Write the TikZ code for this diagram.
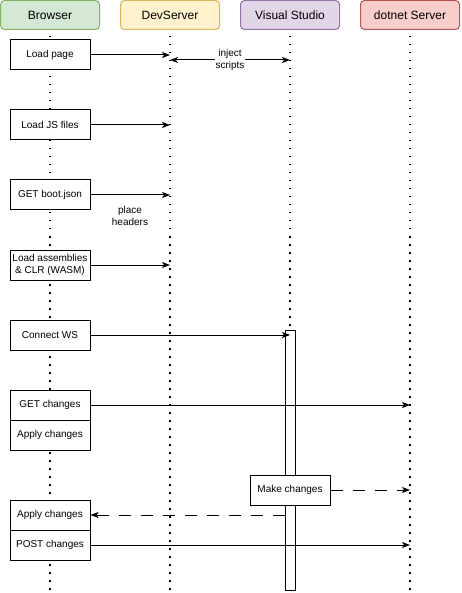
\documentclass[tikz,border=0pt]{standalone}
\usepackage{fontspec}
\setmainfont{Liberation Sans}
\usetikzlibrary{arrows.meta}

\definecolor{vertfond}{HTML}{D5E8D4}
\definecolor{vertbord}{HTML}{82B366}
\definecolor{jaunefond}{HTML}{FFF2CC}
\definecolor{jaunebord}{HTML}{D6B656}
\definecolor{violetfond}{HTML}{E1D5E7}
\definecolor{violetbord}{HTML}{9673A6}
\definecolor{rougefond}{HTML}{F8CECC}
\definecolor{rougebord}{HTML}{B85450}

\begin{document}
\begin{tikzpicture}[x=1pt,y=-1pt]
      \tikzstyle{entete}=[draw, line width=1pt, rounded corners=4pt, minimum width=99pt, minimum height=29pt, inner sep=0pt, font=\fontsize{12}{14}\selectfont]
      \tikzstyle{boite}=[draw, line width=1pt, fill=white, minimum width=80pt, minimum height=30pt, inner sep=0pt, align=center, font=\fontsize{10}{12}\selectfont]
      \tikzstyle{texte}=[align=center, inner sep=1pt, font=\fontsize{10}{12}\selectfont]
      \tikzstyle{vie}=[line width=1.5pt, dash pattern=on 1.5pt off 6.5pt]
      \tikzstyle{fleche}=[-{Stealth[length=8pt,width=6pt,inset=2pt]}, line width=1pt]
      \tikzstyle{tirets}=[fleche, dash pattern=on 12pt off 10pt]

      \useasboundingbox (0,0) rectangle (462,593);

      \node[entete, fill=vertfond, draw=vertbord] (brow) at (50,15) {Browser};
      \node[entete, fill=jaunefond, draw=jaunebord] (dev) at (170,15) {DevServer};
      \node[entete, fill=violetfond, draw=violetbord] (vs) at (290,15) {Visual Studio};
      \node[entete, fill=rougefond, draw=rougebord] (dn) at (410,15) {dotnet Server};

      \coordinate (bas) at (0,592);
      \foreach \n in {brow,dev,vs,dn}
        \draw[vie, shorten <=6pt] (\n.south) -- (\n.south |- bas);

      \node[draw, line width=1pt, fill=white, minimum width=10pt, minimum height=260pt, inner sep=0pt] (barre) at (290,460) {};

      \node[boite] (page) at (50,55) {Load page};
      \node[boite] (js) at (50,125) {Load JS files};
      \node[boite] (boot) at (50,195) {GET boot.json};
      \node[boite] (asm) at (50,265) {Load assemblies\\\& CLR (WASM)};
      \node[boite] (ws) at (50,335) {Connect WS};
      \node[boite] (getc) at (50,405) {GET changes};
      \node[boite] (app1) at (50,435) {Apply changes};
      \node[boite] (app2) at (50,515) {Apply changes};
      \node[boite] (post) at (50,545) {POST changes};
      \node[boite] (make) at (290,490) {Make changes};

      \draw[fleche] (page.east)--(page -| dev);
      \draw[fleche] (js.east)--(js -| dev);
      \draw[fleche] (boot.east)--(boot -| dev);
      \draw[fleche] (asm.east)--(asm -| dev);
      \draw[fleche] (ws.east)--(ws -| vs);
      \draw[fleche] (getc.east)--(getc -| dn);
      \draw[fleche] (post.east)--(post -| dn);
      \draw[tirets] (make.east)--(make -| dn);
      \draw[tirets] (app2 -| barre.west)--(app2.east);

      \coordinate (inj) at (230,60);
      \draw[fleche, {Stealth[length=8pt,width=6pt,inset=2pt]}-{Stealth[length=8pt,width=6pt,inset=2pt]}] (inj -| dev)--(inj -| vs) node[texte, midway, fill=white] {inject\\scripts};
      \node[texte] (place) at (130,216) {place\\headers};

    \end{tikzpicture}
\end{document}
